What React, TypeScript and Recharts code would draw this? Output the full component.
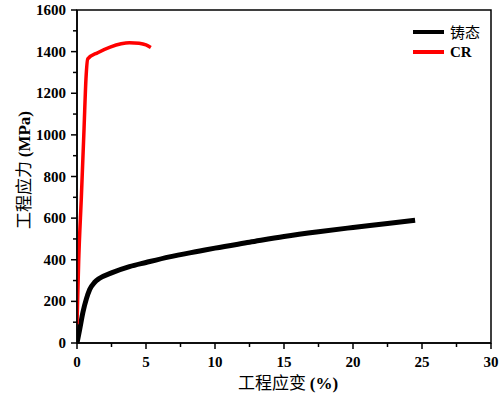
import { LineChart, Line, XAxis, YAxis, ReferenceArea } from "recharts";

// 铸态 (as-cast) curve, strain % vs stress MPa
const castStrain = [0, 0.2, 0.43, 0.68, 0.92, 1.28, 1.64, 2.5, 3.8, 5, 6.7, 8.9, 10, 12.5, 15, 17.5, 20, 22.5, 24.5];
const castStress = [0, 67, 148, 212, 257, 292, 311, 337, 367, 387, 414, 442, 456, 484, 512, 535, 555, 574, 590];

// CR curve
const crStrain = [0, 0.12, 0.32, 0.51, 0.65, 0.78, 1.5, 2.4, 3.2, 3.8, 4.5, 5.0, 5.35];
const crStress = [90, 389, 708, 1029, 1269, 1365, 1395, 1422, 1438, 1443, 1440, 1432, 1420];

const xTicks = [0, 2.5, 5, 7.5, 10, 12.5, 15, 17.5, 20, 22.5, 25, 27.5, 30];
const yTicks = [0, 100, 200, 300, 400, 500, 600, 700, 800, 900, 1000, 1100, 1200, 1300, 1400, 1500, 1600];

const castData = castStrain.map((x, i) => ({ x, y: castStress[i] }));
const crData = crStrain.map((x, i) => ({ x, y: crStress[i] }));

const SERIF = "'Liberation Serif', 'Times New Roman', serif";
const CJK = "'Noto Sans CJK SC', sans-serif";

function XTick(props: any) {
  const { x, y, payload } = props;
  const major = payload.value % 5 === 0;
  return (
    <g>
      <line x1={x} x2={x} y1={y} y2={y + (major ? 6 : 4)} stroke="#000" strokeWidth={1.5} />
      {major && (
        <text x={x} y={y + 24} textAnchor="middle" fontFamily={SERIF} fontWeight="bold" fontSize={15} fill="#000">
          {payload.value}
        </text>
      )}
    </g>
  );
}

function YTick(props: any) {
  const { x, y, payload } = props;
  const major = payload.value % 200 === 0;
  return (
    <g>
      <line x1={x} x2={x - (major ? 6 : 4)} y1={y} y2={y} stroke="#000" strokeWidth={1.5} />
      {major && (
        <text x={x - 11} y={y + 5} textAnchor="end" fontFamily={SERIF} fontWeight="bold" fontSize={15} fill="#000">
          {payload.value}
        </text>
      )}
    </g>
  );
}

const legendRows = [
  { label: "铸态", color: "#000", font: CJK, weight: "normal" },
  { label: "CR", color: "#f00", font: SERIF, weight: "bold" },
];

export default function App() {
  return (
    <div style={{ position: "absolute", left: 0, top: 0, width: 500, height: 393, background: "#fff" }}>
      <LineChart width={500} height={393} margin={{ top: 10, right: 9, left: 0, bottom: 20 }}>
        <XAxis
          type="number"
          dataKey="x"
          domain={[0, 30]}
          ticks={xTicks}
          interval={0}
          allowDataOverflow
          tickSize={0}
          tickMargin={0}
          tick={<XTick />}
          height={30}
          axisLine={{ stroke: "#000", strokeWidth: 1.5 }}
        />
        <YAxis
          type="number"
          dataKey="y"
          domain={[0, 1600]}
          ticks={yTicks}
          interval={0}
          tickSize={0}
          tickMargin={0}
          tick={<YTick />}
          width={77}
          axisLine={{ stroke: "#000", strokeWidth: 1.5 }}
        />
        <ReferenceArea x1={0} x2={30} y1={0} y2={1600} fill="none" stroke="#000" strokeWidth={1.5} ifOverflow="visible" />
        <Line
          data={castData}
          dataKey="y"
          name="铸态"
          type="monotone"
          stroke="#000"
          strokeWidth={5}
          dot={false}
          isAnimationActive={false}
        />
        <Line
          data={crData}
          dataKey="y"
          name="CR"
          type="monotone"
          stroke="#f00"
          strokeWidth={3.5}
          dot={false}
          isAnimationActive={false}
        />
      </LineChart>
      <div style={{ position: "absolute", left: 413, top: 22 }}>
        {legendRows.map((r) => (
          <div key={r.label} style={{ display: "flex", alignItems: "center", height: 20 }}>
            <div style={{ width: 31, height: 4, background: r.color, marginRight: 6 }} />
            <span
              style={{ fontFamily: r.font, fontWeight: r.weight as any, fontSize: 15, lineHeight: "16px", color: "#000" }}
            >
              {r.label}
            </span>
          </div>
        ))}
      </div>
      <div
        style={{
          position: "absolute",
          left: 288,
          top: 381,
          transform: "translate(-50%, -50%)",
          whiteSpace: "nowrap",
          fontSize: 17,
          color: "#000",
        }}
      >
        <span style={{ fontFamily: CJK }}>工程应变 </span>
        <span style={{ fontFamily: SERIF, fontWeight: "bold" }}>(%)</span>
      </div>
      <div
        style={{
          position: "absolute",
          left: 22,
          top: 170,
          transform: "translate(-50%, -50%) rotate(-90deg)",
          whiteSpace: "nowrap",
          fontSize: 17,
          color: "#000",
        }}
      >
        <span style={{ fontFamily: CJK }}>工程应力 </span>
        <span style={{ fontFamily: SERIF, fontWeight: "bold" }}>(MPa)</span>
      </div>
    </div>
  );
}
